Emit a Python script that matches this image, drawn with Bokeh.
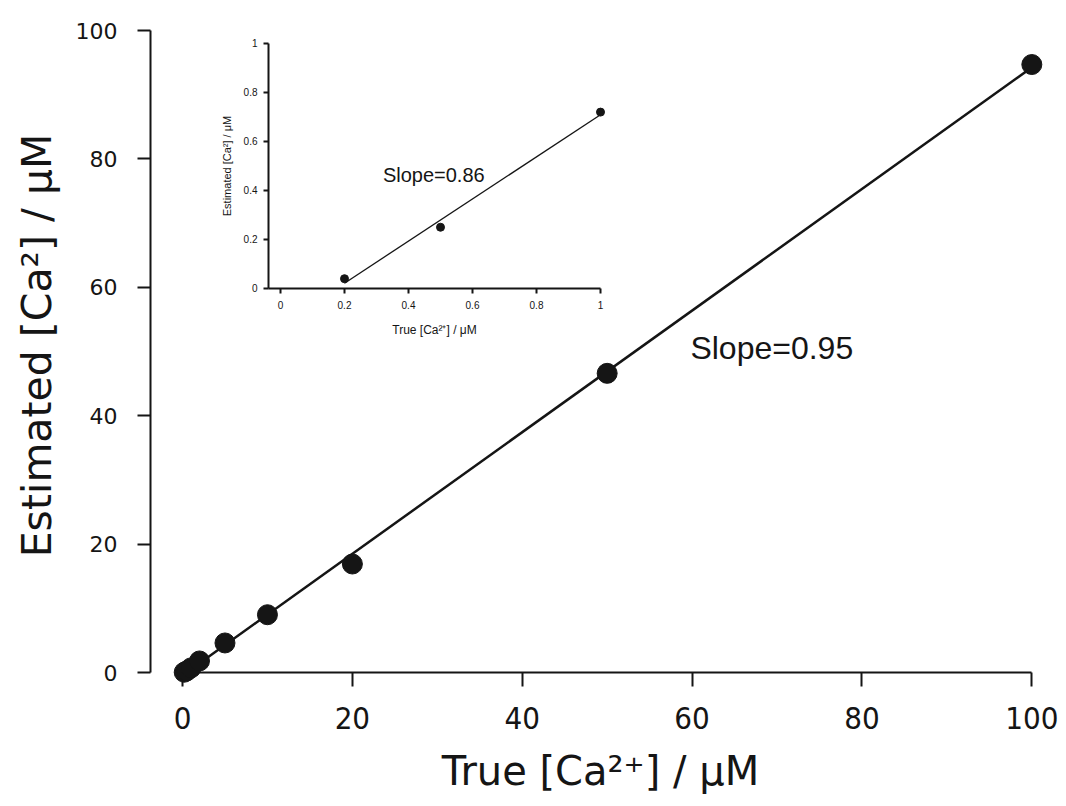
import numpy as np
from bokeh.plotting import figure
from bokeh.models import Range1d, LinearAxis, FixedTicker, NumeralTickFormatter, Label
from bokeh.embed import file_html
from bokeh.resources import INLINE

# ---- data ----
true_ca = [0.2, 0.5, 1, 2, 5, 10, 20, 50, 100]
est_ca = [0.04, 0.25, 0.72, 1.8, 4.6, 9.0, 16.9, 46.6, 94.7]
inset_true = [0.2, 0.5, 1.0]
inset_est = [0.04, 0.25, 0.72]
main_ticks = [0, 20, 40, 60, 80, 100]
inset_ticks = [0, 0.2, 0.4, 0.6, 0.8, 1.0]
main_slope_text = "Slope=0.95"
inset_slope_text = "Slope=0.86"
x_title = "True [Ca²⁺] / μM"
y_title = "Estimated [Ca²] / μM"

INK = "#151515"

p = figure(width=1066, height=806,
           x_range=Range1d(-3.77, 102.2), y_range=Range1d(0, 101.87),
           x_axis_type=None, y_axis_type=None,
           output_backend="svg", toolbar_location=None,
           min_border_left=150, min_border_right=16,
           min_border_top=18, min_border_bottom=134)
p.outline_line_color = None
p.background_fill_color = "white"
p.border_fill_color = "white"

p.extra_x_ranges = {"ix": Range1d(-0.40625, 2.40625)}
p.extra_y_ranges = {"iy": Range1d(-1.56735, 1.10204)}


def style(ax, lw, tick_out, font, size, standoff):
    ax.axis_line_color = INK
    ax.axis_line_width = lw
    ax.major_tick_line_color = INK
    ax.major_tick_line_width = lw
    ax.major_tick_out = tick_out
    ax.major_tick_in = 0
    ax.minor_tick_out = 0
    ax.minor_tick_in = 0
    ax.major_label_text_font = font
    ax.major_label_text_font_size = size
    ax.major_label_text_color = INK
    ax.major_label_standoff = standoff
    ax.axis_label_text_color = INK
    ax.axis_label_text_font_style = "normal"


# main y axis
yax = LinearAxis(ticker=FixedTicker(ticks=main_ticks), bounds=(0, 100), axis_label=y_title)
style(yax, 2, 13, "DejaVu Sans", "22px", 20)
yax.axis_label_text_font = "DejaVu Sans"
yax.axis_label_text_font_size = "41px"
yax.axis_label_standoff = 12
p.add_layout(yax, "left")

# main x axis
xax = LinearAxis(ticker=FixedTicker(ticks=main_ticks), bounds=(0, 100), axis_label=x_title)
style(xax, 2, 14, "DejaVu Sans Condensed, Liberation Sans", "31px", 20)
xax.axis_label_text_font = "DejaVu Sans"
xax.axis_label_text_font_size = "40px"
xax.axis_label_standoff = 16
p.add_layout(xax, "below")

# inset axes
iyax = LinearAxis(x_range_name="ix", y_range_name="iy", fixed_location=-0.0375, bounds=(0, 1),
                  ticker=FixedTicker(ticks=inset_ticks), formatter=NumeralTickFormatter(format="0.[0]"),
                  axis_label=y_title)
style(iyax, 2, 5, "Liberation Sans", "10px", 6)
iyax.axis_label_text_font = "Liberation Sans"
iyax.axis_label_text_font_size = "11px"
iyax.axis_label_standoff = 8
p.add_layout(iyax, "left")

ixax = LinearAxis(x_range_name="ix", y_range_name="iy", fixed_location=0, bounds=(-0.0375, 1),
                  ticker=FixedTicker(ticks=inset_ticks), formatter=NumeralTickFormatter(format="0.[0]"),
                  axis_label=x_title)
style(ixax, 2, 5, "Liberation Sans", "10px", 8)
ixax.axis_label_text_font = "Liberation Sans"
ixax.axis_label_text_font_size = "12px"
ixax.axis_label_standoff = 10
p.add_layout(ixax, "below")

# main fit line + points
fit = np.polyfit(true_ca, est_ca, 1)
xs = [min(true_ca), max(true_ca)]
p.line(xs, list(np.polyval(fit, xs)), line_color=INK, line_width=2.5)
p.scatter(true_ca, est_ca, size=20, fill_color=INK, line_color=INK, level="overlay")

# inset fit line + points
ifit = np.polyfit(inset_true, inset_est, 1)
ixs = [min(inset_true), max(inset_true)]
p.line(ixs, list(np.polyval(ifit, ixs)), line_color=INK, line_width=1.3,
       x_range_name="ix", y_range_name="iy")
p.scatter(inset_true, inset_est, size=8, fill_color=INK, line_color=INK,
          x_range_name="ix", y_range_name="iy")

p.add_layout(Label(x=59.8, y=50.5, text=main_slope_text, text_font="Liberation Sans",
                   text_font_size="32px", text_color=INK, text_baseline="alphabetic"))
p.add_layout(Label(x=0.32, y=0.465, x_range_name="ix", y_range_name="iy", text=inset_slope_text,
                   text_font="Liberation Sans", text_font_size="20px", text_color=INK,
                   text_baseline="alphabetic"))

open("out.html", "w").write(file_html(p, INLINE))
